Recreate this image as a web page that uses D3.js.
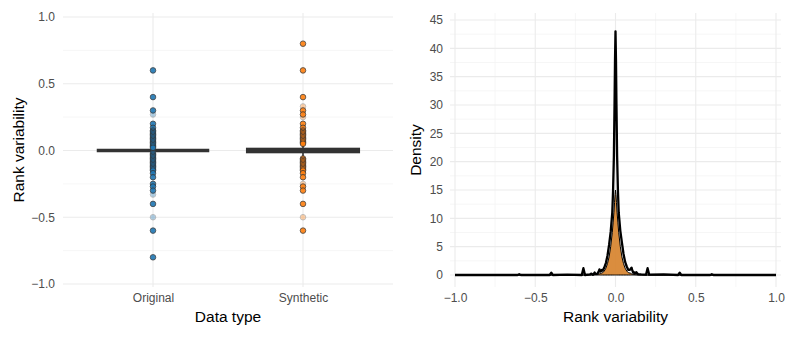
<!DOCTYPE html>
<html>
<head>
<meta charset="utf-8">
<script src="https://cdn.jsdelivr.net/npm/d3@7/dist/d3.min.js"></script>
<style>
  html, body { margin: 0; padding: 0; background: #fff; }
  svg { display: block; font-family: "Liberation Sans", Arial, sans-serif; }
</style>
</head>
<body>
<svg id="chart" width="793" height="338"></svg>
<script>
// ---------- DATA ----------
const categories = ["Original", "Synthetic"];

// boxplot stats per category
const boxQ1 = [0, -0.015];
const boxMedian = [0, 0];
const boxQ3 = [0, 0.015];
const whiskerLow = [0, -0.045];
const whiskerHigh = [0, 0.045];

// points shown on the boxplot (solid) and faded points
const originalPoints = [0.6, 0.4, 0.3, 0.2, 0.17, 0.15, 0.14, 0.13, 0.12, 0.11, 0.1, 0.09, 0.08, 0.07, 0.06, 0.05, 0.04, 0.03, 0.02,
  -0.02, -0.03, -0.04, -0.05, -0.06, -0.07, -0.08, -0.09, -0.1, -0.11, -0.12, -0.13, -0.14, -0.15, -0.17, -0.2,
  -0.25, -0.27, -0.3, -0.4, -0.6, -0.8];
const originalFaded = [0.27, -0.33, -0.5];
const syntheticPoints = [0.8, 0.6, 0.4, 0.3, 0.27, 0.2, 0.17, 0.15, 0.14, 0.13, 0.12, 0.11, 0.1, 0.09, 0.08, 0.07, 0.06, 0.05,
  -0.06, -0.07, -0.08, -0.09, -0.1, -0.11, -0.12, -0.13, -0.14, -0.15, -0.17, -0.2, -0.27, -0.3, -0.4, -0.6];
const syntheticFaded = [0.33, 0.25, -0.25, -0.5];

const leftTicks = [-1, -0.5, 0, 0.5, 1];
const leftMinor = [-0.75, -0.25, 0.25, 0.75];

// density curves (right panel)
const densityX = [-1.0, -0.61, -0.6, -0.59, -0.41, -0.4, -0.39, -0.3, -0.21, -0.2, -0.19, -0.16, -0.15, -0.14, -0.135, -0.13, -0.125,
  -0.115, -0.11, -0.105, -0.1, -0.095, -0.09, -0.085, -0.08, -0.07, -0.06, -0.05, -0.04, -0.03, -0.02, -0.015, -0.01, -0.006, -0.003, 0,
  0.003, 0.006, 0.01, 0.015, 0.02, 0.03, 0.04, 0.05, 0.06, 0.07, 0.08, 0.09, 0.095, 0.1, 0.105, 0.11, 0.115, 0.12, 0.125, 0.13, 0.135,
  0.14, 0.16, 0.19, 0.2, 0.21, 0.3, 0.39, 0.4, 0.41, 0.59, 0.6, 0.61, 1.0];
const originalDensity = [0, 0, 0.15, 0, 0, 0.4, 0, 0.05, 0, 1.2, 0, 0.1, 0.25, 0.05, 0.2, 0.45, 0.2,
  0.2, 0.3, 0.6, 1.0, 0.6, 0.7, 0.9, 0.8, 1.3, 2.1, 3.4, 5.3, 7.6, 11, 15, 21, 30, 38, 43,
  38, 30, 21, 15, 11, 7.8, 5.7, 3.7, 2.3, 1.5, 0.9, 0.9, 1.1, 1.3, 0.8, 0.4, 0.5, 0.3, 0.4, 0.5, 0.3,
  0.15, 0.1, 0.05, 1.2, 0.05, 0.1, 0, 0.4, 0, 0, 0.15, 0, 0];
const syntheticDensity = [0, 0, 0, 0, 0, 0, 0, 0, 0, 0, 0, 0.02, 0.03, 0.04, 0.05, 0.06, 0.07,
  0.1, 0.12, 0.15, 0.2, 0.25, 0.3, 0.35, 0.4, 0.7, 1.2, 2.0, 3.2, 5.0, 7.5, 9.2, 11, 12.8, 14.2, 15,
  14.2, 12.8, 11, 9.2, 7.5, 5.0, 3.2, 2.0, 1.2, 0.7, 0.4, 0.35, 0.3, 0.2, 0.15, 0.12, 0.1, 0.07, 0.06, 0.05, 0.04,
  0.03, 0.02, 0, 0, 0, 0, 0, 0, 0, 0, 0, 0, 0];

const rightXTicks = [-1, -0.5, 0, 0.5, 1];
const rightXMinor = [-0.75, -0.25, 0.25, 0.75];
const rightYTicks = [0, 5, 10, 15, 20, 25, 30, 35, 40, 45];
const rightYMinor = [2.5, 7.5, 12.5, 17.5, 22.5, 27.5, 32.5, 37.5, 42.5];

const colors = { Original: "#1f77b4", Synthetic: "#ff7f0e" };

// ---------- DRAW ----------
const svg = d3.select("#chart");
const fmt = d3.format(".1f");
const gridMajor = "#ebebeb", gridMinor = "#f4f4f4";
const tickColor = "#4d4d4d";

// ===== Left panel =====
const L = { x0: 63, x1: 393, y0: 13, y1: 287 };
const xL = d3.scalePoint().domain(categories).range([L.x0, L.x1]).padding(0.6);
const yL = d3.scaleLinear().domain([-1, 1]).range([284, 17]);

const gL = svg.append("g");
gL.selectAll(".minorL").data(leftMinor).join("line")
  .attr("x1", L.x0).attr("x2", L.x1).attr("y1", d => yL(d)).attr("y2", d => yL(d))
  .attr("stroke", gridMinor).attr("stroke-width", 0.8);
gL.selectAll(".majorL").data(leftTicks).join("line")
  .attr("x1", L.x0).attr("x2", L.x1).attr("y1", d => yL(d)).attr("y2", d => yL(d))
  .attr("stroke", gridMajor).attr("stroke-width", 1.1);
gL.selectAll(".vgridL").data(categories).join("line")
  .attr("x1", d => xL(d)).attr("x2", d => xL(d)).attr("y1", L.y0).attr("y2", L.y1)
  .attr("stroke", gridMajor).attr("stroke-width", 1.1);

// axes labels
const axYL = svg.append("g").attr("transform", `translate(${L.x0 - 6},0)`)
  .call(d3.axisLeft(yL).tickValues(leftTicks).tickFormat(fmt).tickSize(0).tickPadding(2));
axYL.select(".domain").remove();
axYL.selectAll("text").attr("fill", tickColor).style("font-size", "12px")
  .style("font-family", "Liberation Sans, Arial, sans-serif");

const axXL = svg.append("g").attr("transform", `translate(0,${L.y1 + 3})`)
  .call(d3.axisBottom(xL).tickSize(0).tickPadding(3));
axXL.select(".domain").remove();
axXL.selectAll("text").attr("fill", tickColor).style("font-size", "12px")
  .style("font-family", "Liberation Sans, Arial, sans-serif");

// boxes
const boxW = xL.step() * 0.75;
categories.forEach((c, i) => {
  const cx = xL(c);
  const g = gL.append("g");
  g.append("line").attr("x1", cx).attr("x2", cx)
    .attr("y1", yL(whiskerHigh[i])).attr("y2", yL(whiskerLow[i]))
    .attr("stroke", "#333").attr("stroke-width", 1.6);
  g.append("rect").attr("x", cx - boxW / 2).attr("width", boxW)
    .attr("y", yL(boxQ3[i])).attr("height", Math.max(0, yL(boxQ1[i]) - yL(boxQ3[i])))
    .attr("fill", "#333").attr("stroke", "#333").attr("stroke-width", 1.6);
  g.append("line").attr("x1", cx - boxW / 2).attr("x2", cx + boxW / 2)
    .attr("y1", yL(boxMedian[i])).attr("y2", yL(boxMedian[i]))
    .attr("stroke", "#333").attr("stroke-width", 3.6);
});

// points
function drawPts(vals, cat, alpha) {
  gL.append("g").selectAll("circle").data(vals).join("circle")
    .attr("cx", xL(cat)).attr("cy", d => yL(d)).attr("r", 2.8)
    .attr("fill", colors[cat]).attr("stroke", "#333").attr("stroke-width", 0.8)
    .attr("opacity", alpha);
}
drawPts(originalFaded, "Original", 0.35);
drawPts(syntheticFaded, "Synthetic", 0.35);
drawPts(originalPoints, "Original", 0.9);
drawPts(syntheticPoints, "Synthetic", 0.9);

// titles
svg.append("text").attr("x", (L.x0 + L.x1) / 2).attr("y", 322).attr("text-anchor", "middle")
  .style("font-size", "15.5px").attr("fill", "#000").text("Data type");
svg.append("text").attr("transform", `translate(24,150) rotate(-90)`).attr("text-anchor", "middle")
  .style("font-size", "15.5px").attr("fill", "#000").text("Rank variability");

// ===== Right panel =====
const R = { x0: 450, x1: 781, y0: 13, y1: 287 };
const xR = d3.scaleLinear().domain([-1, 1]).range([455, 776]);
const yR = d3.scaleLinear().domain([0, 45]).range([275, 20]);

const gR = svg.append("g");
gR.selectAll(".vminR").data(rightXMinor).join("line")
  .attr("x1", d => xR(d)).attr("x2", d => xR(d)).attr("y1", R.y0).attr("y2", R.y1)
  .attr("stroke", gridMinor).attr("stroke-width", 0.8);
gR.selectAll(".hminR").data(rightYMinor).join("line")
  .attr("x1", R.x0).attr("x2", R.x1).attr("y1", d => yR(d)).attr("y2", d => yR(d))
  .attr("stroke", gridMinor).attr("stroke-width", 0.8);
gR.selectAll(".vmajR").data(rightXTicks).join("line")
  .attr("x1", d => xR(d)).attr("x2", d => xR(d)).attr("y1", R.y0).attr("y2", R.y1)
  .attr("stroke", gridMajor).attr("stroke-width", 1.1);
gR.selectAll(".hmajR").data(rightYTicks).join("line")
  .attr("x1", R.x0).attr("x2", R.x1).attr("y1", d => yR(d)).attr("y2", d => yR(d))
  .attr("stroke", gridMajor).attr("stroke-width", 1.1);

const axYR = svg.append("g").attr("transform", `translate(${R.x0 - 5},0)`)
  .call(d3.axisLeft(yR).tickValues(rightYTicks).tickSize(0).tickPadding(2));
axYR.select(".domain").remove();
axYR.selectAll("text").attr("fill", tickColor).style("font-size", "12px")
  .style("font-family", "Liberation Sans, Arial, sans-serif");

const axXR = svg.append("g").attr("transform", `translate(0,${R.y1 + 3})`)
  .call(d3.axisBottom(xR).tickValues(rightXTicks).tickFormat(fmt).tickSize(0).tickPadding(3));
axXR.select(".domain").remove();
axXR.selectAll("text").attr("fill", tickColor).style("font-size", "12px")
  .style("font-family", "Liberation Sans, Arial, sans-serif");

const synthData = densityX.map((x, i) => ({ x, y: syntheticDensity[i] }));
const origData = densityX.map((x, i) => ({ x, y: originalDensity[i] }));

gR.append("path").datum(synthData)
  .attr("d", d3.area().x(d => xR(d.x)).y0(yR(0)).y1(d => yR(d.y)))
  .attr("fill", "#d7832e").attr("fill-opacity", 0.92)
  .attr("stroke", "#000").attr("stroke-width", 1);
gR.append("path").datum(origData)
  .attr("d", d3.line().x(d => xR(d.x)).y(d => yR(d.y)))
  .attr("fill", "none").attr("stroke", "#000").attr("stroke-width", 2.3)
  .attr("stroke-linejoin", "round");

svg.append("text").attr("x", (xR(-1) + xR(1)) / 2).attr("y", 322).attr("text-anchor", "middle")
  .style("font-size", "15.5px").attr("fill", "#000").text("Rank variability");
svg.append("text").attr("transform", `translate(421,150) rotate(-90)`).attr("text-anchor", "middle")
  .style("font-size", "15.5px").attr("fill", "#000").text("Density");
</script>
</body>
</html>
